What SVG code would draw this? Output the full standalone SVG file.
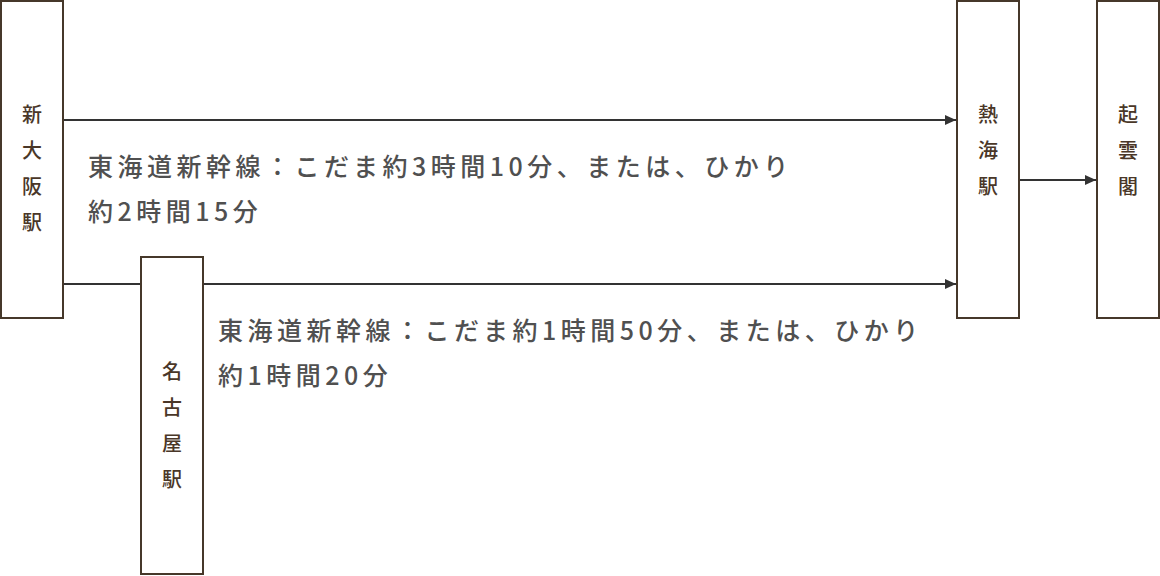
<svg xmlns="http://www.w3.org/2000/svg" width="1160" height="576" viewBox="0 0 1160 576">
<defs>
<style>
.box{fill:#ffffff;stroke:#46382a;stroke-width:2}
.nt{font-family:"Noto Sans CJK JP","Noto Sans CJK SC",sans-serif;font-size:20px;font-weight:500;fill:#4a3728;text-anchor:middle}
.lbl{font-family:"Noto Sans CJK JP","Noto Sans CJK SC",sans-serif;font-size:25px;font-weight:500;fill:#505050;letter-spacing:4.5px}
.ln{stroke:#333333;stroke-width:2;fill:none}
</style>
<marker id="arr" viewBox="0 0 11 10" refX="11" refY="5" markerWidth="11" markerHeight="10" markerUnits="userSpaceOnUse" orient="auto">
<path d="M0,0 L11,5 L0,10 Z" fill="#333333"/>
</marker>
</defs>
<rect width="1160" height="576" fill="#ffffff"/>
<g id="connectors">
<line class="ln" x1="63" y1="120" x2="956" y2="120" marker-end="url(#arr)"/>
<line class="ln" x1="63" y1="284" x2="141" y2="284"/>
<line class="ln" x1="203" y1="284" x2="956" y2="284" marker-end="url(#arr)"/>
<line class="ln" x1="1019" y1="180" x2="1096" y2="180" marker-end="url(#arr)"/>
</g>
<g id="shin-osaka">
<rect class="box" x="1" y="1" width="62" height="317"/>
<text class="nt" x="32" y="122">新</text>
<text class="nt" x="32" y="158">大</text>
<text class="nt" x="32" y="194">阪</text>
<text class="nt" x="32" y="230">駅</text>
</g>
<g id="nagoya">
<rect class="box" x="141" y="257" width="62" height="317"/>
<text class="nt" x="172" y="379">名</text>
<text class="nt" x="172" y="415">古</text>
<text class="nt" x="172" y="451">屋</text>
<text class="nt" x="172" y="487">駅</text>
</g>
<g id="atami">
<rect class="box" x="957" y="1" width="62" height="317"/>
<text class="nt" x="988" y="122">熱</text>
<text class="nt" x="988" y="158">海</text>
<text class="nt" x="988" y="194">駅</text>
</g>
<g id="kiunkaku">
<rect class="box" x="1097" y="1" width="62" height="317"/>
<text class="nt" x="1128" y="122">起</text>
<text class="nt" x="1128" y="158">雲</text>
<text class="nt" x="1128" y="194">閣</text>
</g>
<g id="labels">
<text class="lbl" x="88" y="176">東海道新幹線：こだま約3時間10分、または、ひかり</text>
<text class="lbl" x="88" y="221">約2時間15分</text>
<text class="lbl" x="218" y="340">東海道新幹線：こだま約1時間50分、または、ひかり</text>
<text class="lbl" x="218" y="385">約1時間20分</text>
</g>
</svg>
